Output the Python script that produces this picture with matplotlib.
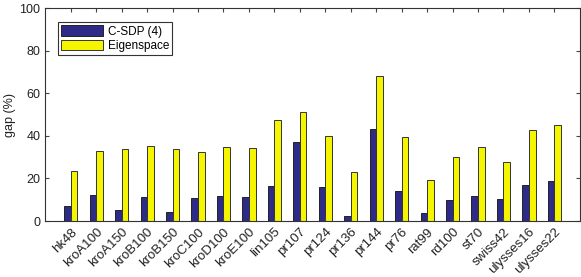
import numpy as np
import matplotlib
matplotlib.use('Agg')
from matplotlib import pyplot as plt

plt.rcParams['font.family'] = ['Liberation Sans', 'DejaVu Sans']

# instance names and gaps (%)
instances = ['hk48', 'kroA100', 'kroA150', 'kroB100', 'kroB150', 'kroC100',
             'kroD100', 'kroE100', 'lin105', 'pr107', 'pr124', 'pr136',
             'pr144', 'pr76', 'rat99', 'rd100', 'st70', 'swiss42',
             'ulysses16', 'ulysses22']
csdp = [7.0, 12.0, 5.3, 11.2, 4.2, 10.8, 11.6, 11.2, 16.4, 37.3,
        15.9, 2.5, 43.1, 14.1, 3.6, 9.7, 11.7, 10.2, 16.9, 18.6]
eigen = [23.4, 33.1, 33.9, 35.3, 34.0, 32.3, 34.8, 34.3, 47.3, 51.4,
         40.1, 23.2, 68.2, 39.5, 19.5, 30.3, 34.8, 27.6, 42.9, 45.0]

fig = plt.figure(figsize=(5.81, 2.77), dpi=100)
ax = fig.add_axes([0.078, 0.202, 0.92, 0.769])

x = np.arange(1, len(instances) + 1)
w = 0.26
ax.bar(x - w/2, csdp, w, color='#2e2a87', edgecolor='#222222', linewidth=0.7, label='C-SDP (4)')
ax.bar(x + w/2, eigen, w, color='#f5f500', edgecolor='#333333', linewidth=0.7, label='Eigenspace')

ax.set_xlim(0, 21)
ax.set_ylim(0, 100)
ax.set_xticks(x)
ax.set_xticklabels(instances, rotation=45, ha='right', rotation_mode='anchor', fontsize=9.5)
ax.set_yticks([0, 20, 40, 60, 80, 100])
ax.tick_params(axis='both', direction='in', top=True, right=True, length=3,
               color='#444444', labelsize=9.5, labelcolor='#222222')
ax.tick_params(axis='y', labelsize=9)
for s in ax.spines.values():
    s.set_color('#333333')
    s.set_linewidth(0.8)
ax.set_ylabel('gap (%)', fontsize=9, color='#222222')
ax.yaxis.set_label_coords(-0.054, 0.5)

leg = ax.legend(loc='upper left', bbox_to_anchor=(0.012, 0.96), fontsize=8.5,
                fancybox=False, framealpha=1, edgecolor='#333333',
                handlelength=3.6, handleheight=1.0, borderpad=0.25,
                labelspacing=0.15, handletextpad=0.4)
leg.get_frame().set_linewidth(0.8)

fig.savefig('out.png', dpi=100)
